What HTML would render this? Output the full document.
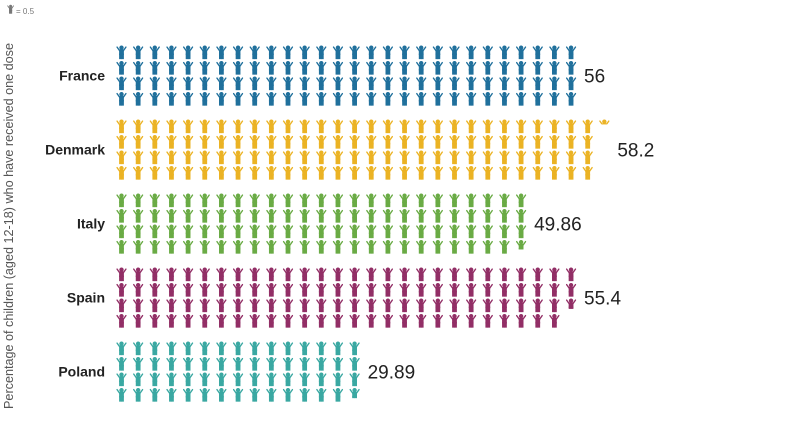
<!DOCTYPE html>
<html><head><meta charset="utf-8"><style>
body{margin:0;background:#fff;width:800px;height:428px;overflow:hidden;font-family:"Liberation Sans",sans-serif}
</style></head><body>
<svg id="s" width="800" height="428" xmlns="http://www.w3.org/2000/svg">
<defs>
<g id="p">
<circle cx="6" cy="2" r="1.9"/>
<rect x="3.9" y="4.4" width="4.2" height="5"/>
<rect x="3.9" y="9" width="1.8" height="5"/>
<rect x="6.3" y="9" width="1.8" height="5"/>
<path d="M4 5.4 L1.2 1.4" stroke-width="1.5" stroke-linecap="round"/>
<path d="M8 5.4 L10.8 1.4" stroke-width="1.5" stroke-linecap="round"/>
</g>
</defs>
<g transform="translate(7,5) scale(0.6)" fill="#777" stroke="#777"><use href="#p"/></g>
<text x="16" y="14" font-size="8" fill="#777">= 0.5</text>
<text transform="translate(13,226) rotate(-90)" text-anchor="middle" font-size="12.5" fill="#555" textLength="366" lengthAdjust="spacingAndGlyphs">Percentage of children (aged 12-18) who have received one dose</text>
</svg>
<script>
var s=document.getElementById('s'),NS='http://www.w3.org/2000/svg';
var d=[["France",56,"#20709c","56"],["Denmark",58.2,"#ebb324","58.2"],["Italy",49.86,"#6aab45","49.86"],["Spain",55.4,"#922f66","55.4"],["Poland",29.89,"#3aa8a2","29.89"]];
var x0=121.5,dx=16.65,dy=15.5,sc=0.92;
d.forEach(function(r,i){
 var cy=75.5+i*74,n=r[1]*2,k=0;
 var t=document.createElementNS(NS,'text');t.setAttribute('x',105);t.setAttribute('y',cy+5);t.setAttribute('text-anchor','end');t.setAttribute('font-size','14');t.setAttribute('font-weight','bold');t.setAttribute('fill','#222');t.textContent=r[0];s.appendChild(t);
 var lastc=0;
 while(n>0.001){
  var c=Math.floor(k/4),row=k%4,f=Math.min(1,n);
  var x=x0+c*dx-6*sc,y=cy+(row-1.5)*dy-7*sc;
  var g=document.createElementNS(NS,'g');g.setAttribute('transform','translate('+x+','+y+') scale('+sc+')');g.setAttribute('fill',r[2]);g.setAttribute('stroke',r[2]);
  if(f<1){var cp=document.createElementNS(NS,'clipPath');cp.id='c'+i+'_'+k;var rc=document.createElementNS(NS,'rect');rc.setAttribute('x',-1);rc.setAttribute('y',-1);rc.setAttribute('width',14);rc.setAttribute('height',15*f);cp.appendChild(rc);s.appendChild(cp);g.setAttribute('clip-path','url(#'+cp.id+')');}
  var u=document.createElementNS(NS,'use');u.setAttribute('href','#p');g.appendChild(u);s.appendChild(g);
  lastc=c;n-=1;k++;
 }
 var v=document.createElementNS(NS,'text');v.setAttribute('x',x0+lastc*dx+13);v.setAttribute('y',cy+7);v.setAttribute('font-size','19');v.setAttribute('fill','#222');v.textContent=r[3];s.appendChild(v);
});
</script>
</body></html>
